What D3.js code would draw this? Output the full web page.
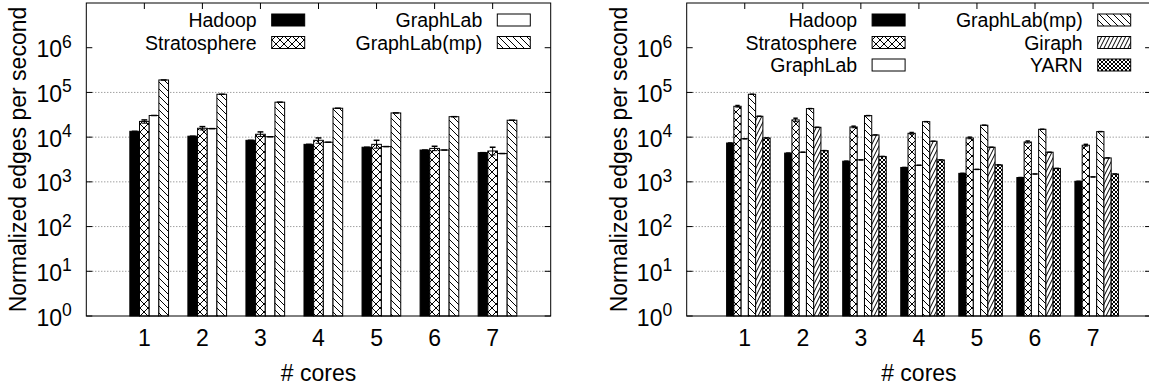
<!DOCTYPE html>
<html>
<head>
<meta charset="utf-8">
<script src="https://cdn.jsdelivr.net/npm/d3@7/dist/d3.min.js"></script>
<style>
  html, body { margin: 0; padding: 0; background: #fff; }
  svg { display: block; font-family: "Liberation Sans", Arial, Helvetica, sans-serif; }
</style>
</head>
<body>
<svg id="chart" width="1149" height="387"></svg>
<script>
// ---------------- data ----------------
const categories = ["1", "2", "3", "4", "5", "6", "7"];
const yTickExponents = [0, 1, 2, 3, 4, 5, 6];

// left panel
const leftHadoop       = [13500, 10500, 8500, 6900, 5950, 5150, 4500];
const leftStratosphere = [22500, 15800, 11600, 8500, 6900, 5600, 4900];
const leftStratoLow    = [20500, 14500, 10300, 7300, 5650, 4990, 3990];
const leftStratoHigh   = [24300, 17200, 13100, 9600, 8500, 6250, 5950];
const leftGraphLab     = [30500, 15500, 10200, 7700, 6150, 5150, 4300];
const leftGraphLabMP   = [190000, 91000, 60500, 44300, 34800, 28700, 23900];

// right panel
const rightHadoop       = [7400, 4400, 2900, 2100, 1550, 1250, 1030];
const rightStratosphere = [49000, 24300, 16900, 12200, 9600, 7800, 6600];
const rightStratoLow    = [47000, 22200, 16200, 11700, 9200, 7400, 6300];
const rightStratoHigh   = [51000, 26500, 17600, 12700, 10000, 8200, 6900];
const rightGraphLab     = [9200, 4600, 3100, 2350, 1900, 1500, 1290];
const rightGraphLabMP   = [91000, 43500, 30300, 22200, 18500, 15000, 13300];
const rightGiraph       = [29300, 16600, 11200, 8100, 5950, 4600, 3430];
const rightYARN         = [9600, 5000, 3700, 3100, 2400, 2000, 1500];

const leftSeries = [
  { name: "Hadoop", values: leftHadoop, fill: "solid" },
  { name: "Stratosphere", values: leftStratosphere, low: leftStratoLow, high: leftStratoHigh, fill: "cross" },
  { name: "GraphLab", values: leftGraphLab, fill: "empty" },
  { name: "GraphLab(mp)", values: leftGraphLabMP, fill: "back" }
];
const rightSeries = [
  { name: "Hadoop", values: rightHadoop, fill: "solid" },
  { name: "Stratosphere", values: rightStratosphere, low: rightStratoLow, high: rightStratoHigh, fill: "cross" },
  { name: "GraphLab", values: rightGraphLab, fill: "empty" },
  { name: "GraphLab(mp)", values: rightGraphLabMP, fill: "back" },
  { name: "Giraph", values: rightGiraph, fill: "fwd" },
  { name: "YARN", values: rightYARN, fill: "dense" }
];

// ---------------- drawing ----------------
const svg = d3.select("#chart");
const FONT = 23;
const defs = svg.append("defs");

function addPattern(id, w, h, lines) {
  const p = defs.append("pattern").attr("id", id)
    .attr("patternUnits", "userSpaceOnUse").attr("width", w).attr("height", h);
  p.append("rect").attr("width", w).attr("height", h).attr("fill", "#fff");
  lines.forEach(l => p.append("line")
    .attr("x1", l[0]).attr("y1", l[1]).attr("x2", l[2]).attr("y2", l[3])
    .attr("stroke", "#000").attr("stroke-width", 1));
}
addPattern("p-cross", 8, 8, [[0,0,8,8],[0,8,8,0],[-1,-1,1,1],[7,9,9,7]]);
addPattern("p-back", 7, 7, [[-1,-1,8,8],[-1,6,1,8],[6,-1,8,1]]);
addPattern("p-fwd", 4, 8, [[0,8,4,0],[-2,4,0,0],[4,8,6,4]]);
addPattern("p-dense", 4, 4, [[0,0,4,4],[0,4,4,0]]);

function fillFor(kind) {
  if (kind === "solid") return "#000";
  if (kind === "empty") return "#fff";
  return "url(#p-" + kind + ")";
}

function panel(left, series) {
  const top = 3, bottom = 316, width = 464.4, right = left + width;
  const x = d3.scaleLinear().domain([-1, 7]).range([left, right]);
  const y = d3.scaleLog().domain([1, 1e7]).range([bottom, top]);
  const g = svg.append("g");
  const n = series.length;
  const bw = 1 / (n + 2);

  // grid (10^1 .. 10^5)
  g.selectAll(".grid").data(yTickExponents.filter(e => e >= 1 && e <= 5)).enter()
    .append("line")
    .attr("x1", left).attr("x2", right)
    .attr("y1", e => y(Math.pow(10, e))).attr("y2", e => y(Math.pow(10, e)))
    .attr("stroke", "#777").attr("stroke-width", 1).attr("stroke-dasharray", "1,2");

  // ticks (y, both sides)
  yTickExponents.forEach(e => {
    const yy = y(Math.pow(10, e));
    g.append("line").attr("x1", left).attr("x2", left + 6).attr("y1", yy).attr("y2", yy).attr("stroke", "#000");
    g.append("line").attr("x1", right - 6).attr("x2", right).attr("y1", yy).attr("y2", yy).attr("stroke", "#000");
    const t = g.append("text").attr("x", left - 14.5).attr("y", yy + 9.5)
      .attr("text-anchor", "end").attr("font-size", FONT).text("10");
    t.append("tspan").attr("dy", -9.5).attr("font-size", 17.5).text(String(e));
  });
  // ticks (x, both sides)
  categories.forEach((c, i) => {
    const xx = x(i);
    g.append("line").attr("x1", xx).attr("x2", xx).attr("y1", bottom).attr("y2", bottom - 6).attr("stroke", "#000");
    g.append("line").attr("x1", xx).attr("x2", xx).attr("y1", top).attr("y2", top + 6).attr("stroke", "#000");
    g.append("text").attr("x", xx).attr("y", 346).attr("text-anchor", "middle")
      .attr("font-size", FONT).text(c);
  });

  // bars
  series.forEach((s, j) => {
    const off = (j - (n - 1) / 2) * bw + bw / 2;
    const bx = i => x(i + off - bw / 2);
    const bwPx = x(bw) - x(0);
    g.selectAll(null).data(s.values).enter().append("rect")
      .attr("x", (d, i) => bx(i)).attr("width", bwPx)
      .attr("y", d => y(d)).attr("height", d => bottom - y(d))
      .attr("fill", fillFor(s.fill)).attr("stroke", "#000").attr("stroke-width", 1);
    // error bars / caps
    const capW = bwPx * 0.6;
    s.values.forEach((d, i) => {
      const cx = bx(i) + bwPx / 2;
      const lo = s.low ? s.low[i] : d, hi = s.high ? s.high[i] : d;
      if (s.low) {
        g.append("line").attr("x1", cx).attr("x2", cx).attr("y1", y(lo)).attr("y2", y(hi)).attr("stroke", "#000");
        g.append("line").attr("x1", cx - capW / 2).attr("x2", cx + capW / 2).attr("y1", y(lo)).attr("y2", y(lo)).attr("stroke", "#000");
      }
      g.append("line").attr("x1", cx - capW / 2).attr("x2", cx + capW / 2).attr("y1", y(hi)).attr("y2", y(hi))
        .attr("stroke", "#000").attr("stroke-width", 1.5);
    });
  });

  // legend
  const rows = Math.ceil(n / 2);
  series.forEach((s, j) => {
    const col = Math.floor(j / rows), row = j % rows;
    const sx = left + (col === 0 ? 185.4 : 411);
    const cy = 20 + row * 22.5;
    g.append("rect").attr("x", sx).attr("y", cy - 6).attr("width", 33).attr("height", 12)
      .attr("fill", fillFor(s.fill)).attr("stroke", "#000").attr("stroke-width", 1);
    g.append("text").attr("x", sx - 15).attr("y", cy + 7).attr("text-anchor", "end")
      .attr("font-size", 19.5).text(s.name);
  });

  // border
  g.append("rect").attr("x", left).attr("y", top).attr("width", width).attr("height", bottom - top)
    .attr("fill", "none").attr("stroke", "#000").attr("stroke-width", 1);

  // axis titles
  g.append("text").attr("x", (left + right) / 2).attr("y", 381).attr("text-anchor", "middle")
    .attr("font-size", FONT).text("# cores");
  g.append("text").attr("transform", `translate(${left - 60},${(top + bottom) / 2}) rotate(-90)`)
    .attr("text-anchor", "middle").attr("font-size", FONT).text("Normalized edges per second");
}

panel(86.3, leftSeries);
panel(686.7, rightSeries);
</script>
</body>
</html>
